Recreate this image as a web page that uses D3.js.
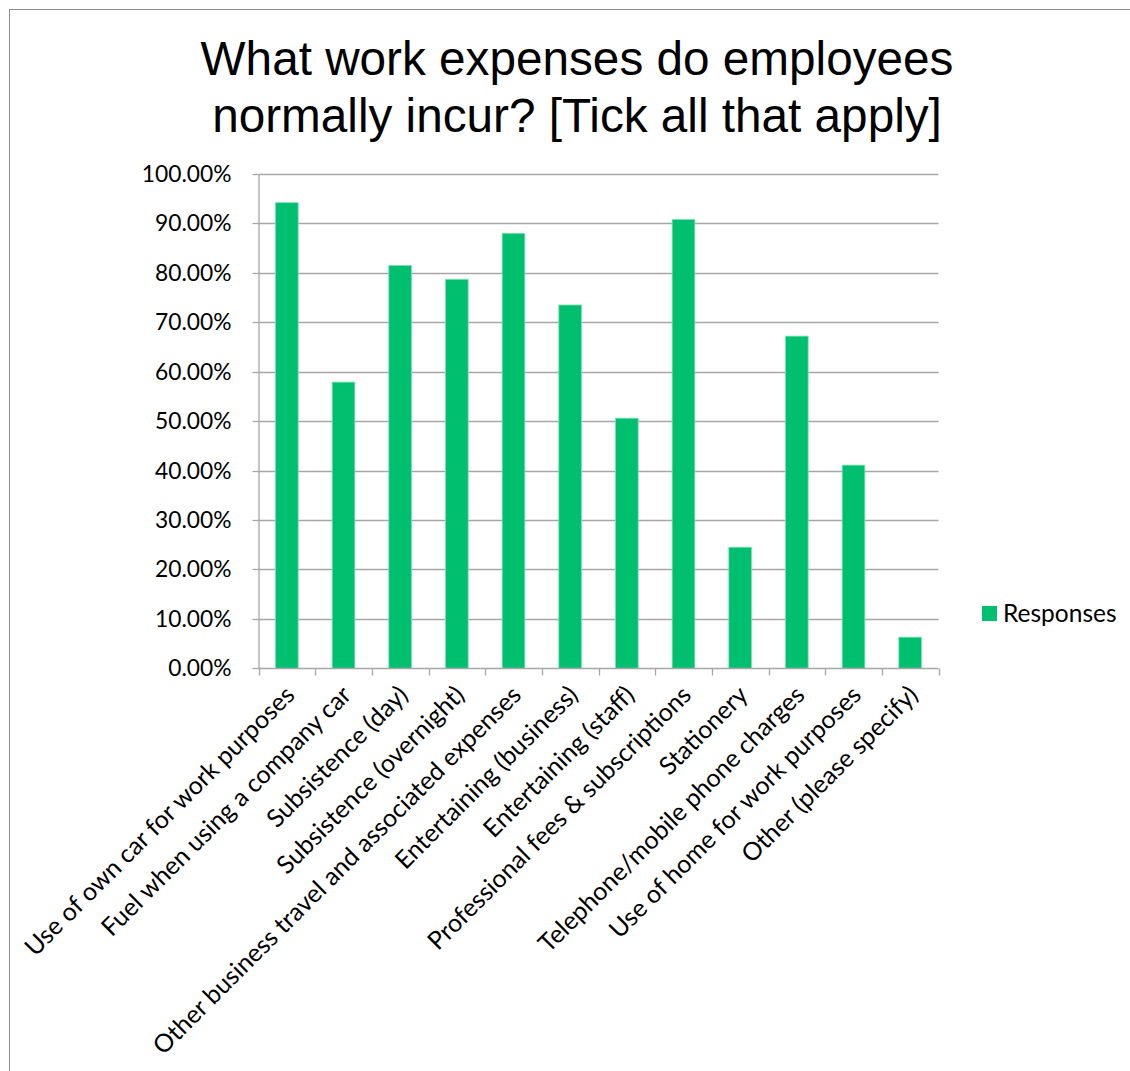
<!DOCTYPE html>
<html><head><meta charset="utf-8">
<script src="https://cdn.jsdelivr.net/npm/d3@7"></script>
<style>body{margin:0;background:#fff}svg{display:block}</style>
</head><body>
<svg id="c" width="1130" height="1071"></svg>
<script>
const titleLines = ["What work expenses do employees", "normally incur? [Tick all that apply]"];
const categories = [
  "Use of own car for work purposes",
  "Fuel when using a company car",
  "Subsistence (day)",
  "Subsistence (overnight)",
  "Other business travel and associated expenses",
  "Entertaining (business)",
  "Entertaining (staff)",
  "Professional fees & subscriptions",
  "Stationery",
  "Telephone/mobile phone charges",
  "Use of home for work purposes",
  "Other (please specify)"
];
const responses = [0.942, 0.579, 0.815, 0.787, 0.880, 0.735, 0.506, 0.908, 0.245, 0.672, 0.411, 0.063];
const yTicks = [0, 0.1, 0.2, 0.3, 0.4, 0.5, 0.6, 0.7, 0.8, 0.9, 1.0];
const seriesName = "Responses";

(function () {
const svg = d3.select("#c");
const pLeft = 258.5, pRight = 938.5, pTop = 174, pBottom = 668.3;
const green = "#00bf6f";
const font = "Lato, 'Open Sans', sans-serif";

// border
svg.append("rect").attr("x", 9.5).attr("y", 9.5).attr("width", 1130).attr("height", 1080)
  .attr("fill", "none").attr("stroke", "#8c8c8c").attr("stroke-width", 1);

// title
svg.append("text").attr("x", 579).attr("y", 75)
  .attr("text-anchor", "middle").attr("font-family", "'Liberation Sans', Arial, sans-serif")
  .attr("font-size", 47.7).attr("fill", "#000")
  .selectAll("tspan").data(titleLines).join("tspan")
  .attr("x", 577).attr("dy", (d, i) => i === 0 ? 0 : 57).text(d => d);

const x = d3.scaleBand().domain(categories).range([pLeft, pRight]).paddingInner(0.6).paddingOuter(0.3);
const xb = d3.scaleBand().domain(categories).range([pLeft, pRight]);
const y = d3.scaleLinear().domain([0, 1]).range([pBottom, pTop]);

// gridlines
svg.append("g").selectAll("line").data(yTicks.filter(d => d > 0)).join("line")
  .attr("x1", pLeft).attr("x2", pRight)
  .attr("y1", d => Math.round(y(d)) + 0.5).attr("y2", d => Math.round(y(d)) + 0.5)
  .attr("stroke", "#a6a6a6").attr("stroke-width", 1.3);

// y axis
const yAxis = d3.axisLeft(y).tickValues(yTicks).tickFormat(d3.format(".2%")).tickSizeInner(6).tickSizeOuter(0).tickPadding(21);
const gy = svg.append("g").attr("transform", `translate(${pLeft},0)`).call(yAxis);
gy.select(".domain").attr("stroke", "#a6a6a6").attr("stroke-width", 1.3);
gy.selectAll(".tick line").attr("stroke", "#a6a6a6").attr("stroke-width", 1.3);
gy.selectAll(".tick text").attr("font-family", font).attr("font-size", 22.8).attr("fill", "#000");
gy.selectAll(".tick").attr("transform", d => `translate(0,${Math.round(y(d)) + 0.5})`);

// bars
svg.append("g").selectAll("rect").data(responses).join("rect")
  .attr("x", (d, i) => x(categories[i]))
  .attr("width", x.bandwidth())
  .attr("y", d => y(d))
  .attr("height", d => pBottom - y(d))
  .attr("fill", green)
  .attr("stroke", "#7ee0b4").attr("stroke-width", 0.8);

// x axis
const gx = svg.append("g").attr("transform", `translate(0,${Math.round(pBottom) + 0.5})`);
gx.append("line").attr("x1", pLeft).attr("x2", pRight).attr("stroke", "#a6a6a6").attr("stroke-width", 1.3);
const tickPos = categories.map(c => xb(c)).concat([pRight]);
gx.selectAll("line.t").data(tickPos).join("line").attr("class", "t")
  .attr("x1", d => Math.round(d) + 0.5).attr("x2", d => Math.round(d) + 0.5)
  .attr("y1", 0).attr("y2", 7).attr("stroke", "#a6a6a6").attr("stroke-width", 1.3);

// x labels
svg.append("g").selectAll("text").data(categories).join("text")
  .attr("transform", d => `translate(${xb(d) + xb.bandwidth() / 2 - 4},${pBottom + 15}) rotate(-45)`)
  .attr("text-anchor", "end").attr("dy", "0.75em")
  .attr("font-family", font).attr("font-size", 25).attr("fill", "#000")
  .text(d => d);

// legend
const lg = svg.append("g").attr("transform", "translate(982,606)");
lg.append("rect").attr("width", 15).attr("height", 15).attr("fill", green);
lg.append("text").attr("x", 21).attr("y", 15.5).attr("font-family", font).attr("font-size", 24.5).attr("fill", "#000").text(seriesName);
})();
</script>
</body></html>
